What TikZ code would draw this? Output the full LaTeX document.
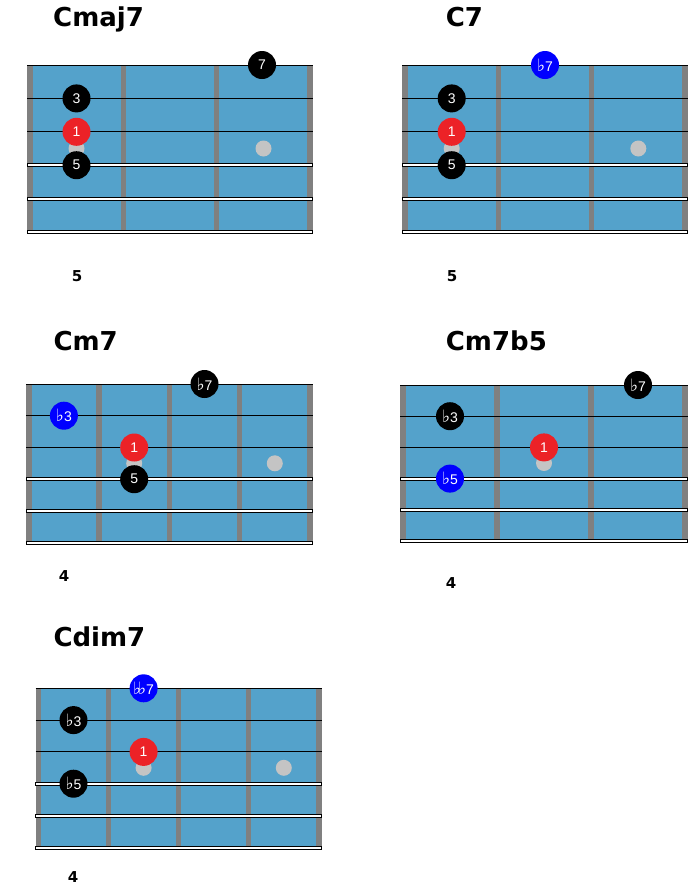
\documentclass[tikz,border=0pt]{standalone}
\usepackage{fontspec}
\newfontfamily\dvsans{DejaVu Sans}
\newfontfamily\lsans{Liberation Sans}
\definecolor{boardblue}{HTML}{54A2CB}
\definecolor{fretgrey}{HTML}{808080}
\definecolor{inlaygrey}{HTML}{C4C4C4}
\definecolor{rootred}{HTML}{EC2227}
\definecolor{noteblue}{HTML}{0000FF}
\newcommand\fl{{\dvsans\fontsize{17}{17}\selectfont ♭}}
\tikzset{
  inlay/.style={circle,fill=inlaygrey,minimum size=16pt,inner sep=0pt},
  finger/.style={circle,minimum size=28pt,inner sep=0pt,text=white,font=\lsans\fontsize{14}{14}\selectfont},
  fblack/.style={finger,fill=black},
  fred/.style={finger,fill=rootred},
  fblue/.style={finger,fill=noteblue},
  charttitle/.style={anchor=base west,inner sep=0pt,font=\dvsans\bfseries\fontsize{26}{30}\selectfont},
  fretnum/.style={inner sep=0pt,font=\dvsans\bfseries\fontsize{15}{15}\selectfont},
  thinstring/.style={line width=0.9pt,draw=black},
  wirestring/.style={fill=white,draw=black,line width=0.6pt},
}
% #1 left, #2 top, #3 right, #4 bottom, #5 number of fret spaces
\newcommand\fboard[5]{%
  \fill[boardblue] (#1,#2) rectangle (#3,#4);
  \pgfmathsetmacro\fw{(#3-#1-5.5)/#5}
  \foreach \i in {0,...,#5}{\fill[fretgrey] ({#1+\i*\fw},{#2+1}) rectangle ({#1+\i*\fw+5.5},{#4-1});}
  \pgfmathsetmacro\sg{(#4-#2)/5}
  \foreach \s in {0,1,2}{\draw[thinstring] (#1,{#2+\s*\sg}) -- (#3,{#2+\s*\sg});}
  \foreach \s in {3,4,5}{\filldraw[wirestring] (#1,{#2+\s*\sg-1.5}) rectangle (#3,{#2+\s*\sg+1.5});}
}
\begin{document}
\begin{tikzpicture}[x=1pt,y=-1pt]
\useasboundingbox (0,0) rectangle (700,892);
\fill[white] (0,0) rectangle (700,892);

% ---------- Cmaj7
\node[charttitle] (t1) at (53,26) {Cmaj7};
\fboard{27.3}{65}{312.7}{232}{3}
\node[inlay] (a1) at (76.5,148.5) {};
\node[inlay] (a2) at (263.5,148.5) {};
\node[fblack] (a7) at (262,65) {7};
\node[fblack] (a3) at (76.5,98.4) {3};
\node[fred]   (aR) at (76.5,131.8) {1};
\node[fblack] (a5) at (76.5,165.2) {5};
\node[fretnum] (n1) at (77,276) {5};

% ---------- C7
\node[charttitle] (t2) at (445.7,26) {C7};
\fboard{402.3}{65}{687.7}{232}{3}
\node[inlay] (b1) at (451.7,148.5) {};
\node[inlay] (b2) at (638.3,148.5) {};
\node[fblue]  (b7) at (545,65) {\fl7};
\node[fblack] (b3) at (451.7,98.4) {3};
\node[fred]   (bR) at (451.7,131.8) {1};
\node[fblack] (b5) at (451.7,165.2) {5};
\node[fretnum] (n2) at (452,276) {5};

% ---------- Cm7
\node[charttitle] (t3) at (53.3,350) {Cm7};
\fboard{26}{384}{312.7}{542.7}{4}
\node[inlay] (c1) at (134.2,463.3) {};
\node[inlay] (c2) at (274.8,463.3) {};
\node[fblack] (c7) at (204.5,384) {\fl7};
\node[fblue]  (c3) at (63.9,415.7) {\fl3};
\node[fred]   (cR) at (134.2,447.5) {1};
\node[fblack] (c5) at (134.2,479.2) {5};
\node[fretnum] (n3) at (64,576) {4};

% ---------- Cm7b5
\node[charttitle] (t4) at (445.7,350) {Cm7b5};
\fboard{400.3}{385}{687.7}{541}{3}
\node[inlay] (d1) at (544,463) {};
\node[fblack] (d7) at (638,385) {\fl7};
\node[fblack] (d3) at (450,416.2) {\fl3};
\node[fred]   (dR) at (544,447.4) {1};
\node[fblue]  (d5) at (450,478.6) {\fl5};
\node[fretnum] (n4) at (451,583) {4};

% ---------- Cdim7
\node[charttitle] (t5) at (53.3,646.7) {Cdim7};
\fboard{35.7}{688.3}{321.5}{847.3}{4}
\node[inlay] (e1) at (143.6,767.8) {};
\node[inlay] (e2) at (283.8,767.8) {};
\node[fblue]  (e7) at (143.6,688.3) {\fl\kern-3pt\fl7};
\node[fblack] (e3) at (73.5,720.1) {\fl3};
\node[fred]   (eR) at (143.6,751.9) {1};
\node[fblack] (e5) at (73.5,783.7) {\fl5};
\node[fretnum] (n5) at (73,877) {4};
\end{tikzpicture}
\end{document}
